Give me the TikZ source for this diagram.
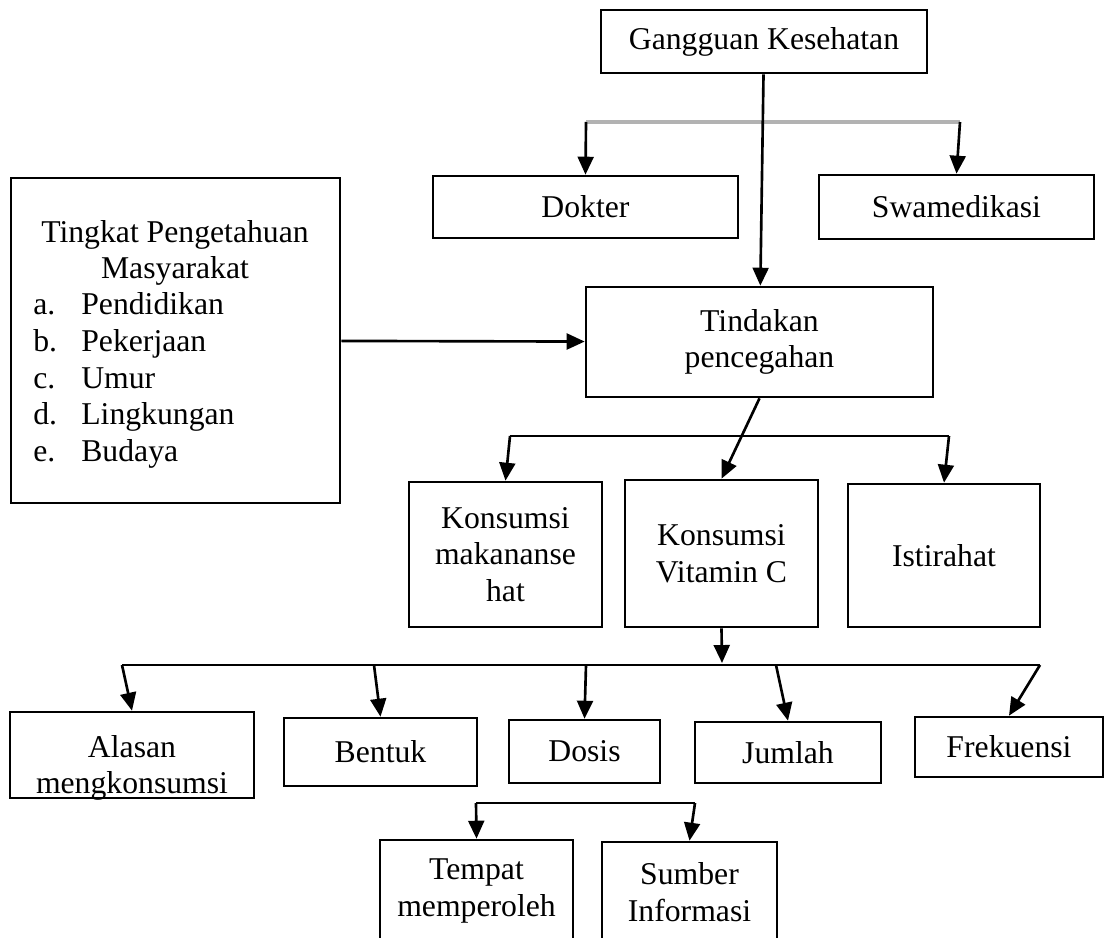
\documentclass[tikz,border=0pt]{standalone}
\usepackage{fontspec}
\setmainfont{Liberation Serif}
\usetikzlibrary{arrows.meta}

\begin{document}
\begin{tikzpicture}[x=0.3785pt,y=-0.3785pt,->,>={Triangle[length=6.8pt,width=6pt]},
  line width=1pt,font=\fontsize{12pt}{13.9pt}\selectfont,
  box node/.style={draw,inner sep=0pt,align=center},
  box size/.style 2 args={minimum width=#1*0.3785pt,minimum height=#2*0.3785pt},
  branch/.style={-,line width=0.8pt}]

  \useasboundingbox (0,0) rectangle (1106,938);

  \node[box node,box size={326}{63}] (1) at (764,41.5) {Gangguan Kesehatan};
  \node[box node,box size={305}{62}] (2) at (585.5,207) {Dokter};
  \node[box node,box size={275}{64}] (3) at (956.5,207) {Swamedikasi};
  \node[box node,box size={329}{325}] (4) at (175.5,340.5) {};
  \node[box node,box size={347}{110}] (5) at (759.5,342) {Tindakan\\pencegahan};
  \node[box node,box size={193}{145}] (6) at (505.5,554.5) {Konsumsi\\makananse\\hat};
  \node[box node,box size={193}{147}] (7) at (721.5,553.5) {Konsumsi\\Vitamin C};
  \node[box node,box size={192}{143}] (8) at (944,555.5) {Istirahat};
  \node[box node,box size={244}{86}] (9) at (132,755) {};
  \node[box node,box size={193}{68}] (10) at (380.5,752) {Bentuk};
  \node[box node,box size={151}{63}] (11) at (584.5,751.5) {Dosis};
  \node[box node,box size={186}{61}] (12) at (788,752.5) {Jumlah};
  \node[box node,box size={188}{60}] (13) at (1009,747) {Frekuensi};
  \node[box node,box size={193}{102}] (14) at (476.5,891) {Tempat\\memperoleh};
  \node[box node,box size={175}{100}] (15) at (689.5,892) {Sumber\\Informasi};

  % isi kotak tingkat pengetahuan
  \node[anchor=base] (j1) at (175,242) {Tingkat Pengetahuan};
  \node[anchor=base] (j2) at (175,278) {Masyarakat};
  \foreach \huruf/\isi [count=\i] in {a./Pendidikan,b./Pekerjaan,c./Umur,d./Lingkungan,e./Budaya} {
    \node[anchor=base west,inner sep=0pt] (h\i) at (32,{278+36.7*\i}) {\huruf};
    \node[anchor=base west,inner sep=0pt] (t\i) at (80,{278+36.7*\i}) {\isi};
  }

  % teks alasan terpotong oleh kotak
  \begin{scope}
    \clip (9.south west) rectangle (9.north east);
    \node[align=center] (9t) at (132,768) {Alasan\\mengkonsumsi};
  \end{scope}

  \coordinate (c1) at (586,122);
  \coordinate (c2) at (960,122);
  \coordinate (c3) at (510,436);
  \coordinate (c4) at (949,436);
  \coordinate (c5) at (722,663);
  \coordinate (e1) at (476,803);
  \coordinate (e2) at (695,803);

  \draw[branch,draw=gray!60,line width=1.8pt] (c1) -- (c2);
  \draw[branch] (c3) -- (c4);
  \draw[branch] (e1) -- (e2);

  \path
  (1) edge (5)
  (c1) edge (2.north)
  (c2) edge (3.north)
  (4) edge (5)
  (5.south) edge (7.north)
  (c3) edge (6.north)
  (c4) edge (8.north)
  (7.south) edge (c5)
  (e1) edge (14.north)
  (e2) edge (15.north);

  \foreach \x/\n [count=\i] in {122/9,374/10,586/11,776/12,1040/13} {
    \coordinate (d\i) at (\x,665);
    \path (d\i) edge (\n.north);
  }
  \draw[branch] (d1) -- (d5);
\end{tikzpicture}
\end{document}
